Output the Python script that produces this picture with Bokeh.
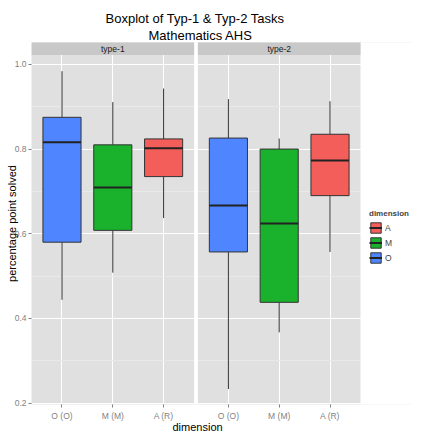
from bokeh.plotting import figure
from bokeh.models import (Range1d, FixedTicker, NumeralTickFormatter, ColumnDataSource,
                          Legend, LegendItem, Title)
from bokeh.core.properties import value
from bokeh.embed import file_html
from bokeh.resources import INLINE

# ---- data ----
title_lines = ["Boxplot of Typ-1 & Typ-2 Tasks", "Mathematics AHS"]
x_title = "dimension"
y_title = "percentage point solved"
panels = ["type-1", "type-2"]
dims = ["O (O)", "M (M)", "A (R)"]
legend_labels = ["O", "M", "A"]
colors = ["#4F86FF", "#1AB12C", "#F45E5A"]

t1_low = [0.444, 0.508, 0.637]
t1_q1 = [0.580, 0.608, 0.735]
t1_med = [0.816, 0.709, 0.802]
t1_q3 = [0.875, 0.810, 0.824]
t1_high = [0.984, 0.911, 0.943]

t2_low = [0.233, 0.367, 0.557]
t2_q1 = [0.557, 0.438, 0.690]
t2_med = [0.667, 0.624, 0.773]
t2_q3 = [0.826, 0.800, 0.835]
t2_high = [0.918, 0.825, 0.913]

y_ticks = [0.2, 0.4, 0.6, 0.8, 1.0]
y_minor = [0.3, 0.5, 0.7, 0.9]

FONT = "Liberation Sans"
W, H = 411, 435
LEFT, TOP, BOTTOM = 31, 42, 31
PANEL_PX = 329                 # width of the two facet panels in px
GAP = 0.075                    # spacing between facet panels (x units)
PW = 3.2                       # panel width in x units
XPANEL_END = 0.4 + 2 * PW + GAP
PXU = PANEL_PX / (2 * PW + GAP)
XEND = 0.4 + (W - LEFT) / PXU  # frame extends to the right edge (legend area)
Y0, Y1 = 0.1966, 1.022
FRAME_H = H - TOP - BOTTOM
STRIP_PX = 12.6
STRIP = STRIP_PX * (Y1 - Y0) / (FRAME_H - STRIP_PX)
YTOP = Y1 + STRIP

def xpos(i, j):
    return 1 + i + j * (PW + GAP)

p = figure(width=W, height=H, output_backend="svg", toolbar_location=None, title=None,
           x_range=Range1d(0.4, XEND), y_range=Range1d(Y0, YTOP),
           min_border_left=LEFT, min_border_right=0, min_border_top=TOP,
           min_border_bottom=BOTTOM)

p.background_fill_color = "#E0E0E0"
p.border_fill_color = "white"
p.outline_line_color = None

def make_title(text, size, offset, standoff=0):
    return Title(text=text, align="left", offset=offset, standoff=standoff,
                 text_font=FONT, text_font_size=size, text_font_style="normal",
                 text_color="black")

p.add_layout(make_title(title_lines[1], "13px", 117), "above")
p.add_layout(make_title(title_lines[0], "13px", 74), "above")

# ---- axes ----
xt = [xpos(i, j) for j in range(2) for i in range(3)]
p.xaxis.ticker = FixedTicker(ticks=xt)
p.xaxis.major_label_overrides = {x: dims[k % 3] for k, x in enumerate(xt)}
p.yaxis.ticker = FixedTicker(ticks=y_ticks, minor_ticks=y_minor)
p.yaxis.formatter = NumeralTickFormatter(format="0.0")
p.ygrid.ticker = FixedTicker(ticks=y_ticks, minor_ticks=y_minor)
p.yaxis.axis_label = y_title
for ax in (p.xaxis, p.yaxis):
    ax.axis_line_color = None
    ax.major_tick_line_color = "#7F7F7F"
    ax.major_tick_out = 3
    ax.major_tick_in = 0
    ax.minor_tick_out = 0
    ax.minor_tick_in = 0
    ax.major_label_text_color = "#7F7F7F"
    ax.major_label_text_font = FONT
    ax.major_label_text_font_size = "8.5px"
    ax.axis_label_text_font = FONT
    ax.axis_label_text_font_size = "11px"
    ax.axis_label_text_font_style = "normal"
    ax.axis_label_text_color = "black"
p.xaxis.major_label_standoff = 3
p.yaxis.major_label_standoff = 2
p.yaxis.axis_label_standoff = -6

p.add_layout(make_title(x_title, "11px", 141, standoff=-9), "below")

p.xgrid.grid_line_color = "white"
p.xgrid.grid_line_width = 1
p.ygrid.grid_line_color = "white"
p.ygrid.grid_line_width = 1
p.ygrid.minor_grid_line_color = "#E9E9E9"
p.ygrid.minor_grid_line_width = 1

# ---- facet decorations: gap, legend area and strips ----
p.quad(left=[0.4 + PW, XPANEL_END], right=[0.4 + PW + GAP, XEND + 1],
       bottom=[Y0 - 1, Y0 - 1], top=[YTOP + 1, YTOP + 1],
       fill_color="white", line_color=None)
p.quad(left=[0.4, 0.4 + PW + GAP], right=[0.4 + PW, XPANEL_END],
       bottom=[Y1, Y1], top=[YTOP + 1, YTOP + 1], fill_color="#C8C8C8", line_color=None)
p.text(x=[2.0, 2.0 + PW + GAP], y=[Y1 + STRIP / 2] * 2, text=panels,
       text_font=value(FONT), text_font_size="8.5px", text_color="#1A1A1A",
       text_align="center", text_baseline="middle")

# ---- boxplots ----
lows = [t1_low, t2_low]
q1s = [t1_q1, t2_q1]
meds = [t1_med, t2_med]
q3s = [t1_q3, t2_q3]
highs = [t1_high, t2_high]

boxes = {}
medr = {}
for i in range(3):
    src = ColumnDataSource(dict(
        x=[xpos(i, j) for j in range(2)],
        x0=[xpos(i, j) - 0.375 for j in range(2)],
        x1=[xpos(i, j) + 0.375 for j in range(2)],
        low=[lows[j][i] for j in range(2)],
        q1=[q1s[j][i] for j in range(2)],
        med=[meds[j][i] for j in range(2)],
        q3=[q3s[j][i] for j in range(2)],
        high=[highs[j][i] for j in range(2)],
    ))
    p.segment(x0="x", x1="x", y0="q3", y1="high", source=src, line_color="#333333", line_width=1)
    p.segment(x0="x", x1="x", y0="low", y1="q1", source=src, line_color="#333333", line_width=1)
    boxes[i] = p.vbar(x="x", width=0.75, bottom="q1", top="q3", source=src,
                      fill_color=colors[i], line_color="#333333", line_width=1)
    medr[i] = p.segment(x0="x0", x1="x1", y0="med", y1="med", source=src,
                        line_color="#222222", line_width=2)

items = [LegendItem(label=legend_labels[i], renderers=[boxes[i], medr[i]]) for i in (2, 1, 0)]
legend = Legend(items=items, title="dimension", location=(PANEL_PX + 9, 140))
legend.title_text_font = FONT
legend.title_text_font_size = "8px"
legend.title_text_font_style = "bold"
legend.title_standoff = 3
legend.label_text_font = FONT
legend.label_text_font_size = "8.5px"
legend.glyph_width = 13
legend.glyph_height = 13
legend.spacing = 2
legend.label_standoff = 3
legend.padding = 0
legend.margin = 0
legend.border_line_color = None
legend.background_fill_alpha = 0
p.add_layout(legend)

open("out.html", "w").write(file_html(p, INLINE))
